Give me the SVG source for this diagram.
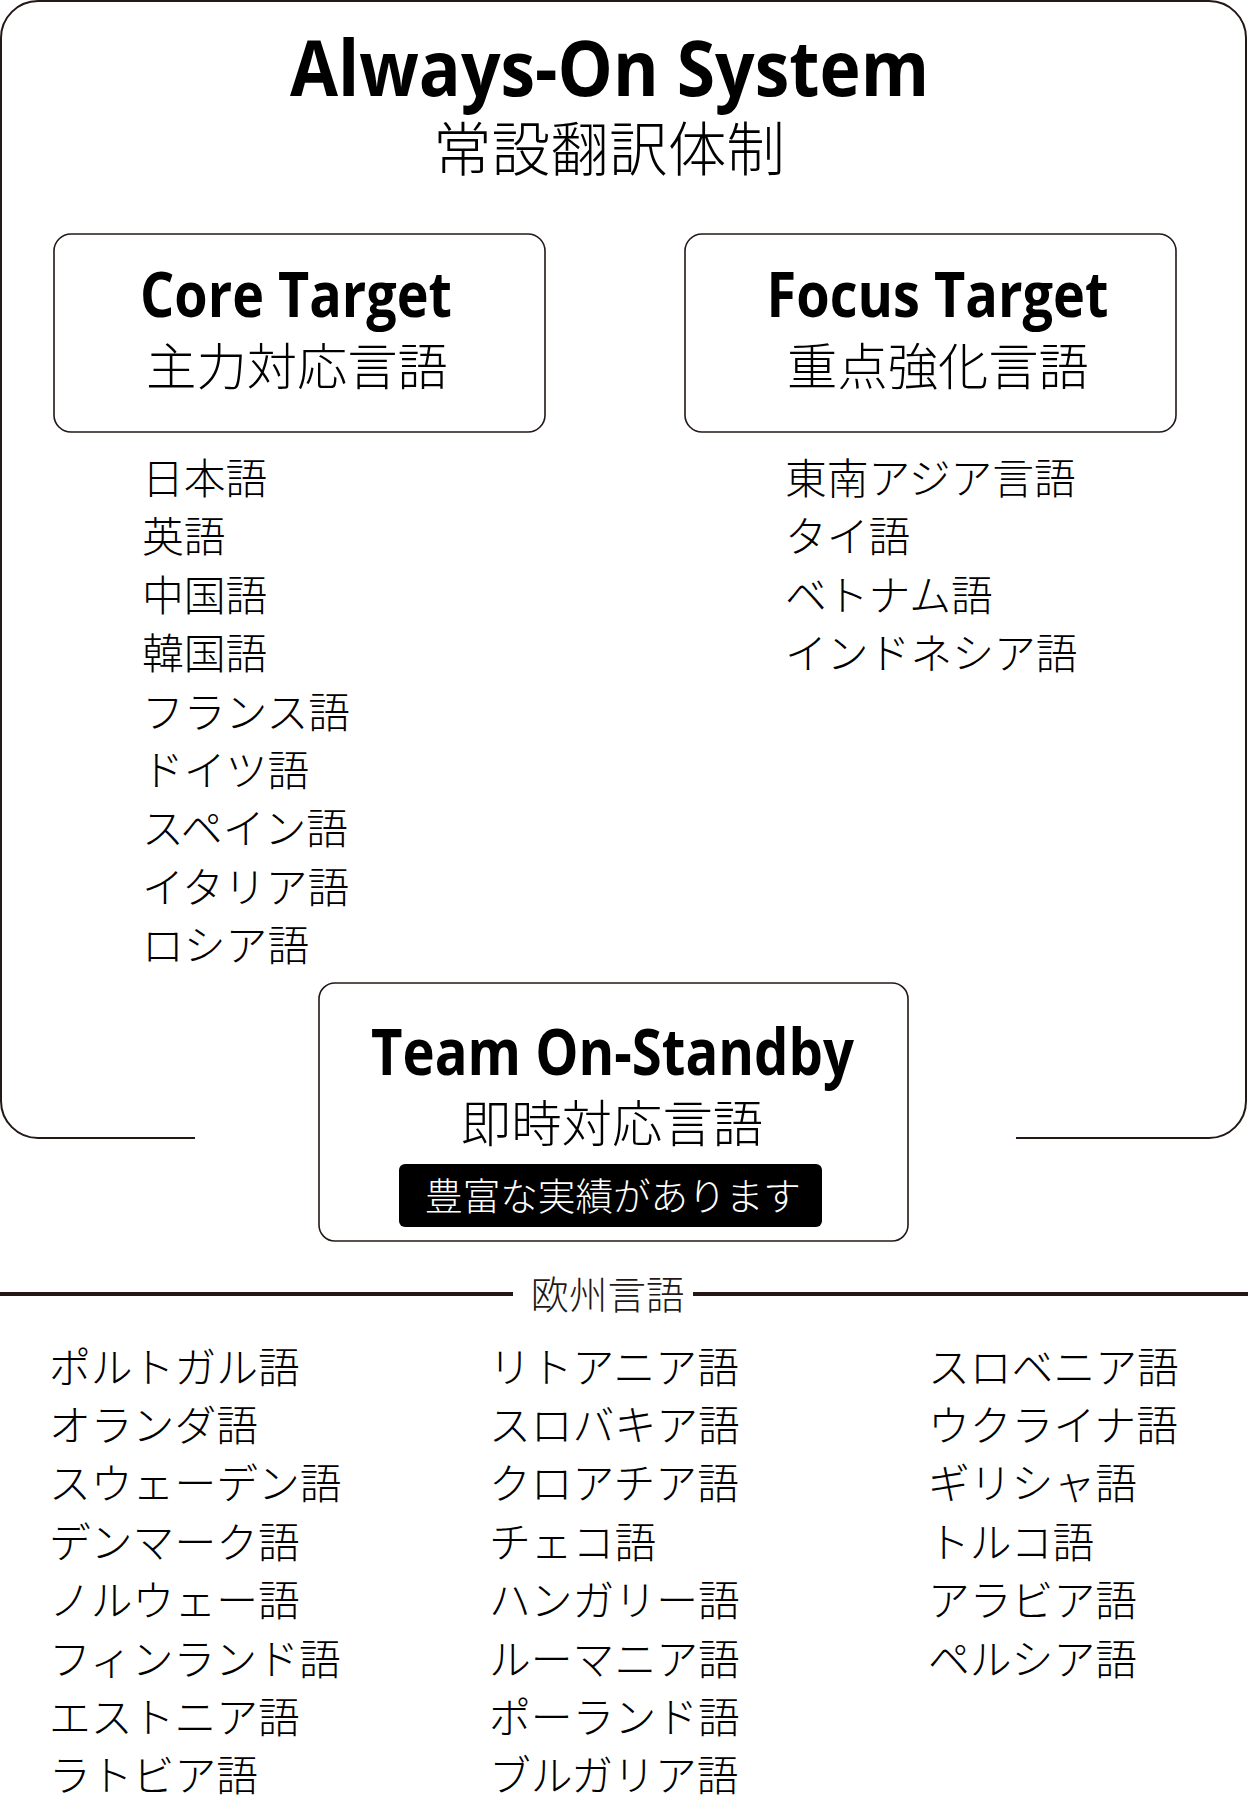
<svg xmlns="http://www.w3.org/2000/svg" width="1248" height="1795" viewBox="0 0 1248 1795">
<style>
.frame{fill:none;stroke:#231815;stroke-width:2}
.box{fill:#fff;stroke:#231815;stroke-width:1.6}
.en{font-family:"Open Sans","Liberation Sans",sans-serif;font-weight:700;fill:#000;text-anchor:middle}
.jp{font-family:"Noto Sans CJK JP","Noto Sans CJK SC",sans-serif;font-weight:300;fill:#000}
.mid{text-anchor:middle}
.li{font-size:41.8px}
.div{stroke:#231815;stroke-width:4}
</style>
<rect width="1248" height="1795" fill="#fff"/>

<g id="always-on-system">
  <path class="frame" d="M195,1138 H38 A37,37 0 0 1 1,1101 V38 A37,37 0 0 1 38,1 H1209 A37,37 0 0 1 1246,38 V1101 A37,37 0 0 1 1209,1138 H1016"/>
  <text class="en" x="609.5" y="96" font-size="77" textLength="639" lengthAdjust="spacingAndGlyphs">Always-On System</text>
  <text class="jp mid" x="609" y="171" font-size="58.7">常設翻訳体制</text>
</g>

<g id="core-target">
  <rect class="box" x="54" y="234" width="491" height="198" rx="17"/>
  <text class="en" x="296" y="317" font-size="63" textLength="312" lengthAdjust="spacingAndGlyphs">Core Target</text>
  <text class="jp mid" x="297" y="385" font-size="50.3">主力対応言語</text>
</g>

<g id="core-list" class="jp li">
  <text x="142" y="494">日本語</text>
  <text x="142" y="552.4">英語</text>
  <text x="142" y="610.8">中国語</text>
  <text x="142" y="669.2">韓国語</text>
  <text x="142" y="727.6">フランス語</text>
  <text x="142" y="786">ドイツ語</text>
  <text x="142" y="844.4">スペイン語</text>
  <text x="142" y="902.8">イタリア語</text>
  <text x="142" y="961.2">ロシア語</text>
</g>

<g id="focus-target">
  <rect class="box" x="685" y="234" width="491" height="198" rx="17"/>
  <text class="en" x="937.5" y="317" font-size="63" textLength="342" lengthAdjust="spacingAndGlyphs">Focus Target</text>
  <text class="jp mid" x="938" y="385" font-size="50.3">重点強化言語</text>
</g>

<g id="focus-list" class="jp li">
  <text x="785" y="494">東南アジア言語</text>
  <text x="785" y="552.4">タイ語</text>
  <text x="785" y="610.8">ベトナム語</text>
  <text x="785" y="669.2">インドネシア語</text>
</g>

<g id="team-on-standby">
  <rect class="box" x="319" y="983" width="589" height="258" rx="16"/>
  <text class="en" x="612.5" y="1075" font-size="64" textLength="483" lengthAdjust="spacingAndGlyphs">Team On-Standby</text>
  <text class="jp mid" x="612" y="1141.5" font-size="50.4">即時対応言語</text>
  <rect x="399" y="1164" width="423" height="63" rx="6" fill="#000"/>
  <text class="jp mid" x="613" y="1210" font-size="37.6" style="fill:#fff">豊富な実績があります</text>
</g>

<g id="europe-header">
  <line class="div" x1="0" y1="1294" x2="513" y2="1294"/>
  <line class="div" x1="693" y1="1294" x2="1248" y2="1294"/>
  <text class="jp mid" x="607.5" y="1308.6" font-size="38.5" style="fill:#231815">欧州言語</text>
</g>

<g id="europe-list-1" class="jp li">
  <text x="49" y="1382.5">ポルトガル語</text>
  <text x="49" y="1440.9">オランダ語</text>
  <text x="49" y="1499.3">スウェーデン語</text>
  <text x="49" y="1557.7">デンマーク語</text>
  <text x="49" y="1616.1">ノルウェー語</text>
  <text x="49" y="1674.5">フィンランド語</text>
  <text x="49" y="1732.9">エストニア語</text>
  <text x="49" y="1791.3">ラトビア語</text>
</g>

<g id="europe-list-2" class="jp li">
  <text x="489" y="1382.5">リトアニア語</text>
  <text x="489" y="1440.9">スロバキア語</text>
  <text x="489" y="1499.3">クロアチア語</text>
  <text x="489" y="1557.7">チェコ語</text>
  <text x="489" y="1616.1">ハンガリー語</text>
  <text x="489" y="1674.5">ルーマニア語</text>
  <text x="489" y="1732.9">ポーランド語</text>
  <text x="489" y="1791.3">ブルガリア語</text>
</g>

<g id="europe-list-3" class="jp li">
  <text x="928" y="1382.5">スロベニア語</text>
  <text x="928" y="1440.9">ウクライナ語</text>
  <text x="928" y="1499.3">ギリシャ語</text>
  <text x="928" y="1557.7">トルコ語</text>
  <text x="928" y="1616.1">アラビア語</text>
  <text x="928" y="1674.5">ペルシア語</text>
</g>
</svg>
